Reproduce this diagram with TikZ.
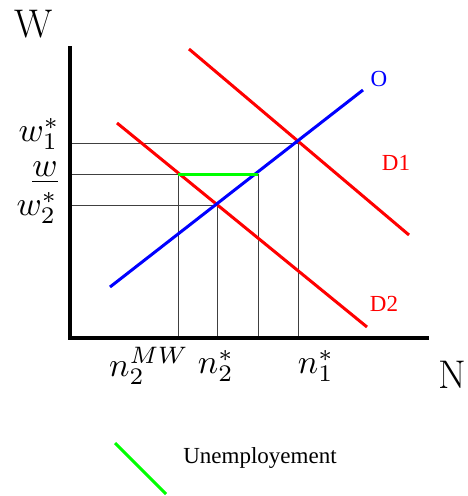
\documentclass[tikz,border=0pt]{standalone}
\usepackage{graphicx}
\usepackage{fontspec}
\newfontfamily\tnr{Liberation Serif}
\newcommand{\mylblmath}[1]{\scalebox{3.4}{$#1$}}
\begin{document}
\begin{tikzpicture}[x=1pt,y=-1pt,
  axis/.style={line width=4pt},
  guide/.style={line width=1pt, black!75},
  curve/.style={line width=3pt},
  tlbl/.style={font=\tnr\fontsize{23}{23}\selectfont, inner sep=0pt},
  biglbl/.style={font=\fontsize{40}{40}\selectfont, inner sep=0pt},
  mlbl/.style={inner sep=0pt}]
\useasboundingbox (0,0) rectangle (468,496);
% axes
\coordinate (orig) at (70,338);
\coordinate (ytop) at (70,46);
\coordinate (xend) at (429,338);
% key points
\coordinate (E1) at (298,143);
\coordinate (E2) at (217,205);
\coordinate (A) at (178,174);
\coordinate (B) at (258,174);
\coordinate (yE1) at (70,143);
\coordinate (yA) at (70,174);
\coordinate (yE2) at (70,205);
\coordinate (xE1) at (298,338);
\coordinate (xE2) at (217,338);
\coordinate (xA) at (178,338);
\coordinate (xB) at (258,338);
% guides
\draw[guide] (yE1) -- (E1) -- (xE1);
\draw[guide] (yE2) -- (E2) -- (xE2);
\draw[guide] (yA) -- (A) -- (xA);
\draw[guide] (B) -- (xB);
% curves
\coordinate (d1a) at (189,49);
\coordinate (d1b) at (409,235);
\coordinate (d2a) at (117,123);
\coordinate (d2b) at (367,327);
\coordinate (sa) at (110,287);
\coordinate (sb) at (363,90);
\draw[curve, red] (d1a) -- (d1b);
\draw[curve, red] (d2a) -- (d2b);
\draw[curve, blue] (sa) -- (sb);
\draw[curve, green] (A) -- (B);
\draw[axis] (ytop) -- (orig) -- (xend);
% labels
\node[biglbl] (W) at (34,24) {W};
\node[biglbl] (N) at (452,375) {N};
\node[mlbl] (w1) at (39,134) {\mylblmath{w_1^*}};
\node[mlbl] (wb) at (45,173) {\mylblmath{\underline{w}}};
\node[mlbl] (w2) at (37,208) {\mylblmath{w_2^*}};
\node[mlbl] (n2mw) at (149,366) {\mylblmath{n_2^{MW}}};
\node[mlbl] (n2) at (216,366) {\mylblmath{n_2^*}};
\node[mlbl] (n1) at (316,366) {\mylblmath{n_1^*}};
\node[tlbl, blue] (Olbl) at (379,79) {O};
\node[tlbl, red] (D1) at (396,163) {D1};
\node[tlbl, red] (D2) at (384,304) {D2};
% legend
\coordinate (la) at (115,443);
\coordinate (lb) at (166,494);
\draw[curve, green] (la) -- (lb);
\node[tlbl] (leg) at (260,458) {Unemployement};
\end{tikzpicture}
\end{document}
